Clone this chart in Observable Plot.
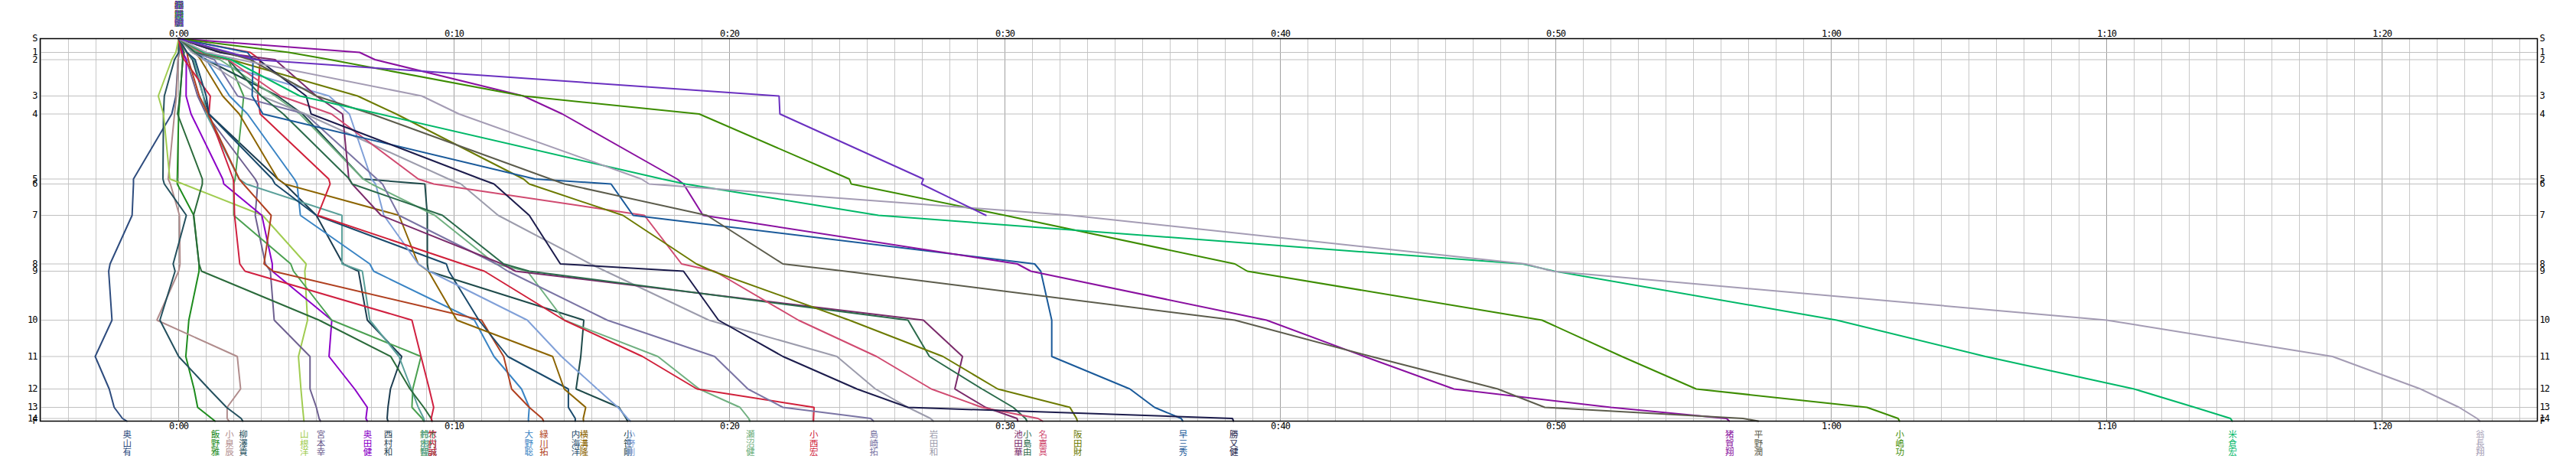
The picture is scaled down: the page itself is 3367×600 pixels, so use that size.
<!DOCTYPE html>
<html><head><meta charset="utf-8">
<script src="https://cdn.jsdelivr.net/npm/d3@7"></script>
<script src="https://cdn.jsdelivr.net/npm/@observablehq/plot@0.6"></script>
<style>html,body{margin:0;padding:0;background:#fff}svg{display:block}</style>
</head><body><div id="chart"></div>
<script>
// Controls and cumulative course distance (m) of each control
const controls = ["S","1","2","3","4","5","6","7","8","9","10","11","12","13","14","F"];
const controlDist = [0,180,275,750,985,1835,1900,2310,2945,3040,3680,4155,4580,4820,4965,5000];

// Time axis ticks (minutes behind the reference pace)
const timeTicks = [0,10,20,30,40,50,60,70,80];
const timeTickLabels = ["0:00","0:10","0:20","0:30","0:40","0:50","1:00","1:10","1:20"];
const minorTicks = d3.range(-5, 86, 1);

// Runners
const runners = ["奥山有","飯野雅","小泉辰","柳澤貴","山根洋","宮本幸","奥田健","西村和",
  "鈴木智","村田翔","木村誠","竹内誠","大野聡","緑川拓","内海洋","横溝隆","小笹剛","小野剛",
  "瀬沼健","小西宏","島崎拓","岩田和","池田華","小島由","名嘉真","阪田財","早三秀","勝又健",
  "猪賀翔","平野潤","小嶋功","米倉宏","翁長翔","石井明"];

// Time (min, relative) at controls 1..14 and F (start = 0:00)
const splits = [
  [0.02,-0.02,-0.1,-0.25,-1.64,-1.64,-1.69,-2.49,-2.54,-2.42,-3.03,-2.52,-2.34,-2.04,-1.88],
  [0.1,0.15,0.05,0.0,-0.05,-0.05,0.55,0.74,0.74,0.37,0.26,0.56,0.69,1.2,1.32],
  [0.0,-0.02,-0.08,-0.15,-0.38,-0.3,0.03,0.05,0.0,-0.79,2.13,2.25,1.76,1.76,1.83],
  [0.0,-0.15,-0.52,-0.55,-0.57,-0.52,0.28,-0.2,-0.13,-0.68,0.0,1.1,1.74,2.27,2.33],
  [-0.1,-0.25,-0.74,-0.55,-0.32,0.16,3.05,4.63,4.58,4.68,4.35,4.44,4.5,4.54,4.55],
  [0.14,0.28,0.69,1.0,2.78,2.87,2.78,3.15,3.33,3.47,4.77,4.77,5.0,5.1,5.15],
  [0.15,0.28,0.27,0.45,1.6,1.64,3.02,3.4,3.4,5.56,5.46,6.39,6.85,6.8,6.85],
  [0.3,0.5,0.9,1.1,3.6,3.85,5.0,5.97,6.53,6.85,8.1,7.69,7.6,7.57,7.6],
  [0.8,1.8,2.36,2.3,2.05,2.0,2.0,4.07,4.17,5.56,8.8,8.5,8.47,8.84,8.9],
  [0.3,0.55,0.9,1.0,2.2,2.45,5.93,5.93,6.67,6.94,8.0,8.45,8.7,8.9,8.92],
  [0.2,0.15,0.05,-0.04,0.86,0.86,0.54,0.74,0.83,5.1,7.7,8.4,8.9,9.17,9.2],
  [0.1,0.2,1.15,1.1,1.98,2.0,2.03,2.22,2.41,8.47,8.8,9.1,9.26,9.17,9.2],
  [0.6,1.0,1.85,2.5,4.2,4.3,4.42,6.94,7.08,10.74,11.45,12.45,12.73,12.7,12.7],
  [0.3,0.35,0.75,1.07,2.2,2.35,3.36,3.1,3.43,11.0,11.8,12.09,12.73,13.2,13.25],
  [0.3,0.6,1.0,1.1,3.4,3.5,5.0,9.72,9.81,10.9,11.95,14.15,14.15,14.4,14.4],
  [0.6,0.8,1.6,2.2,3.6,3.85,8.0,8.7,9.07,10.1,13.58,14.0,14.78,14.69,14.7],
  [0.5,1.0,3.6,4.5,6.7,8.94,9.03,9.03,9.07,14.71,14.6,14.43,15.99,16.25,16.3],
  [0.8,0.93,5.46,6.2,7.0,7.15,7.45,8.7,9.1,12.66,13.9,15.2,15.95,16.3,16.4],
  [0.7,1.5,3.5,4.4,6.7,7.0,9.3,11.5,12.66,14.0,17.4,18.9,20.38,20.7,20.74],
  [2.6,2.96,2.87,2.96,5.45,5.5,5.05,10.3,11.1,14.0,16.84,18.82,23.07,23.05,23.05],
  [0.6,1.3,2.14,4.6,7.2,7.4,8.0,11.53,11.95,15.56,19.46,20.67,21.94,25.13,25.23],
  [0.5,0.9,3.0,4.6,9.8,10.25,11.6,14.95,15.5,19.25,23.9,25.3,26.48,27.3,27.4],
  [1.5,3.5,5.0,5.95,6.18,6.3,7.35,11.74,12.23,27.04,28.46,28.18,29.3,30.44,30.47],
  [0.6,1.8,3.0,3.8,6.2,6.3,9.58,11.8,12.73,26.48,27.26,29.17,30.3,30.75,30.8],
  [0.8,1.8,3.7,5.55,8.7,9.26,16.91,18.26,19.46,22.5,25.34,27.33,29.17,31.2,31.37],
  [0.9,1.9,6.5,7.9,12.52,12.73,16.13,18.8,19.39,24.35,27.75,29.74,32.36,32.6,32.63],
  [2.5,2.7,2.67,3.06,12.94,15.7,16.5,31.08,31.3,31.7,31.7,34.54,35.43,36.4,36.46],
  [1.5,2.9,4.63,4.81,10.96,11.45,12.73,13.86,18.33,19.6,21.94,24.63,26.48,38.26,38.3],
  [6.57,7.13,12.52,13.93,18.1,18.33,19.04,30.45,30.94,39.5,43.05,46.3,52.0,56.2,56.3],
  [1.7,2.6,5.0,7.0,13.5,14.0,19.18,21.94,24.2,38.35,43.3,47.9,49.6,56.8,57.35],
  [4.0,5.5,12.52,18.9,24.35,24.42,30.0,38.35,38.8,49.5,52.4,55.1,61.3,62.43,62.48],
  [0.9,1.9,4.4,7.3,17.55,18.4,25.41,48.8,49.95,60.2,65.6,71.0,73.2,74.5,74.56],
  [1.0,2.2,8.83,10.18,16.8,17.08,32.4,48.9,49.87,70.0,78.2,81.4,82.8,83.45,83.55],
  [1.85,2.78,21.8,21.83,27.04,26.97,29.31]
];

// Line colours, one per runner (same order)
const palette = ["#2e4c7e","#1e8c1e","#b08c8c","#24505e","#a0cc50","#6e6090","#8c00c8","#1c3c50",
  "#4aa050","#5aa09a","#2a6a3a","#d02040","#3a84c4","#b04020","#1a4a6c","#8c6400","#1e4a4a","#80a0d8",
  "#70b080","#d0203a","#7a74a4","#9c9cac","#7a2a6a","#2a6a4a","#d04a70","#6c7a00","#1a5a9a","#1c1c4c",
  "#8a10a0","#5c5c4c","#3c8c00","#00b868","#a49cb4","#6a30c0"];

const points = [];
runners.forEach((name, i) => {
  [0, ...splits[i]].forEach((t, j) => points.push({name, color: palette[i], t, d: controlDist[j]}));
});
const finishers = runners
  .map((name, i) => ({name, color: palette[i], t: splits[i][splits[i].length - 1], n: splits[i].length}))
  .filter(r => r.n === controls.length - 1);
const everyone = runners.map((name, i) => ({name, color: palette[i]}));
const vertical = s => s.split("").join("\n");

const numFont = "'DejaVu Sans Mono', monospace";
const cjkFont = "'Noto Sans CJK JP', sans-serif";

const chart = Plot.plot({
  width: 3367,
  height: 600,
  marginLeft: 52,
  marginRight: 51,
  marginTop: 50,
  marginBottom: 50,
  x: {domain: [-181 / 36, 3083 / 36], axis: null},
  y: {domain: [0, 5000], reverse: true, axis: null},
  color: {type: "identity"},
  style: {background: "white", overflow: "visible"},
  marks: [
    Plot.ruleX(minorTicks, {stroke: "#c8c8c8", strokeWidth: 1}),
    Plot.ruleX(timeTicks, {stroke: "#a0a0a0", strokeWidth: 1}),
    Plot.ruleY(controlDist, {stroke: "#c0c0c0", strokeWidth: 1}),
    Plot.line(points, {x: "t", y: "d", z: "name", stroke: "color", strokeWidth: 2, strokeLinejoin: "miter"}),
    Plot.frame({stroke: "black", strokeWidth: 1.5}),
    Plot.text(timeTicks, {x: d => d, text: (d, i) => timeTickLabels[i], frameAnchor: "top", dy: -3, lineAnchor: "bottom", fontSize: 12, fontFamily: numFont, fill: "black"}),
    Plot.text(timeTicks, {x: d => d, text: (d, i) => timeTickLabels[i], frameAnchor: "bottom", dy: 2, lineAnchor: "top", fontSize: 12, fontFamily: numFont, fill: "black"}),
    Plot.text(controlDist, {y: d => d, text: (d, i) => controls[i], frameAnchor: "left", dx: -4, textAnchor: "end", fontSize: 12, fontFamily: numFont, fill: "black"}),
    Plot.text(controlDist, {y: d => d, text: (d, i) => controls[i], frameAnchor: "right", dx: 3, textAnchor: "start", fontSize: 12, fontFamily: numFont, fill: "black"}),
    Plot.text(finishers, {x: "t", text: d => vertical(d.name), fill: "color", frameAnchor: "bottom", dy: 13, lineAnchor: "top", lineHeight: 1.02, fontSize: 11.5, fontFamily: cjkFont}),
    Plot.text(everyone, {x: () => 0, text: d => vertical(d.name), fill: "color", frameAnchor: "top", dy: -48, lineAnchor: "top", lineHeight: 1.02, fontSize: 11.5, fontFamily: cjkFont})
  ]
});
d3.select(chart).selectAll("text").style("letter-spacing", "-1px");
document.getElementById("chart").append(chart);
</script>
</body></html>
